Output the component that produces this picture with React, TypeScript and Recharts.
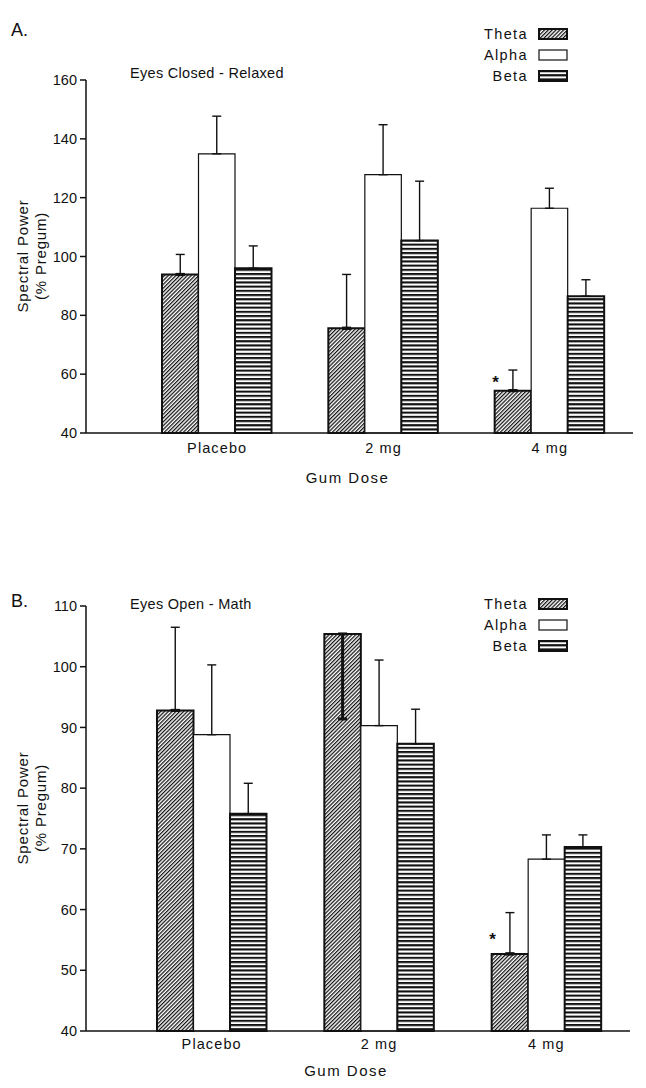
import React from "react";
import { BarChart, Bar, XAxis, YAxis, ErrorBar, LabelList } from "recharts";

const FONT = "'Liberation Sans', Arial, sans-serif";

const doses = ["Placebo", "2 mg", "4 mg"];
const bands = ["Theta", "Alpha", "Beta"];
const significance = ["", "", "*"];

// A: eyes closed - relaxed (mean, upper error)
const thetaA = [93.9, 75.6, 54.4];
const thetaAErr = [6.8, 18.3, 7];
const alphaA = [134.9, 127.8, 116.4];
const alphaAErr = [12.8, 17, 6.8];
const betaA = [96, 105.4, 86.5];
const betaAErr = [7.6, 20.2, 5.6];
const ticksA = [40, 60, 80, 100, 120, 140, 160];

// B: eyes open - math
const thetaB = [92.8, 105.4, 52.7];
const thetaBErrUp = [13.7, 0, 6.8];
const thetaBErrDown = [0, 14, 0];
const alphaB = [88.8, 90.3, 68.3];
const alphaBErr = [11.5, 10.8, 4];
const betaB = [75.8, 87.3, 70.3];
const betaBErr = [5, 5.7, 2];
const ticksB = [40, 50, 60, 70, 80, 90, 100, 110];

const rowsA = doses.map((dose, i) => ({
  dose,
  theta: thetaA[i],
  thetaUp: [0, thetaAErr[i]],
  thetaDown: [0, 0],
  alpha: alphaA[i],
  alphaErr: [0, alphaAErr[i]],
  beta: betaA[i],
  betaErr: [0, betaAErr[i]],
  sig: significance[i],
}));

const rowsB = doses.map((dose, i) => ({
  dose,
  theta: thetaB[i],
  thetaUp: [0, thetaBErrUp[i]],
  thetaDown: [thetaBErrDown[i], 0],
  alpha: alphaB[i],
  alphaErr: [0, alphaBErr[i]],
  beta: betaB[i],
  betaErr: [0, betaBErr[i]],
  sig: significance[i],
}));

const yTickStyle = { fill: "#111", fontSize: 14.5, fontFamily: FONT };
const xTickStyle = { fill: "#111", fontSize: 14.5, fontFamily: FONT, letterSpacing: 1.1 };

function Patterns({ id }: { id: string }) {
  return (
    <defs>
      <pattern id={`theta${id}`} patternUnits="userSpaceOnUse" width={2.7} height={10} patternTransform="rotate(45)">
        <rect width={2.7} height={10} fill="#fff" />
        <rect width={1.25} height={10} fill="#111" />
      </pattern>
      <pattern id={`beta${id}`} patternUnits="userSpaceOnUse" width={10} height={4.2}>
        <rect width={10} height={4.2} fill="#fff" />
        <rect width={10} height={2.1} fill="#111" />
      </pattern>
    </defs>
  );
}

const star = (dy: number) => (props: any) => {
  const { x, y, value } = props;
  if (!value) return null;
  return (
    <text x={x + 1} y={y + dy} fontSize={17} fontWeight="bold" fontFamily={FONT} textAnchor="middle" fill="#111">
      {value}
    </text>
  );
};

const yLabel = (cy: number) => () => (
  <g fill="#111" fontFamily={FONT} fontSize={15} letterSpacing={0.8}>
    <text x={22} y={cy} transform={`rotate(-90 22 ${cy})`} textAnchor="middle" dominantBaseline="central">
      Spectral Power
    </text>
    <text x={40} y={cy} transform={`rotate(-90 40 ${cy})`} textAnchor="middle" dominantBaseline="central">
      (% Pregum)
    </text>
  </g>
);

function Panel(props: any) {
  const { id, rows, ticks, height, margin, padLeft, tickMargin, xHeight, labelY, starDy } = props;
  return (
    <BarChart width={646} height={height} data={rows} margin={margin} barGap={0}>
      <Patterns id={id} />
      <XAxis
        dataKey="dose"
        padding={{ left: padLeft, right: 0 }}
        tickLine={false}
        tickSize={0}
        tickMargin={tickMargin}
        height={xHeight}
        axisLine={{ stroke: "#111", strokeWidth: 1.5 }}
        tick={xTickStyle}
        label={{
          value: "Gum Dose",
          position: "insideBottom",
          offset: 0,
          dx: -12,
          fill: "#111",
          fontSize: 15,
          letterSpacing: 1.5,
          fontFamily: FONT,
        }}
      />
      <YAxis
        type="number"
        domain={[ticks[0], ticks[ticks.length - 1]]}
        ticks={ticks}
        width={86}
        tickSize={6}
        tickMargin={3}
        axisLine={{ stroke: "#111", strokeWidth: 1.5 }}
        tickLine={{ stroke: "#111", strokeWidth: 1.5 }}
        tick={yTickStyle}
        label={yLabel(labelY)}
      />
      <Bar dataKey="theta" barSize={36.5} fill={`url(#theta${id})`} stroke="#111" strokeWidth={2} isAnimationActive={false}>
        <ErrorBar dataKey="thetaUp" direction="y" width={4.5} stroke="#111" strokeWidth={1.4} isAnimationActive={false} />
        <ErrorBar dataKey="thetaDown" direction="y" width={4.5} stroke="#111" strokeWidth={3} isAnimationActive={false} />
        <LabelList dataKey="sig" content={star(starDy)} />
      </Bar>
      <Bar dataKey="alpha" barSize={36.5} fill="#fff" stroke="#111" strokeWidth={1.2} isAnimationActive={false}>
        <ErrorBar dataKey="alphaErr" direction="y" width={4.5} stroke="#111" strokeWidth={1.4} isAnimationActive={false} />
      </Bar>
      <Bar dataKey="beta" barSize={36.5} fill={`url(#beta${id})`} stroke="#111" strokeWidth={2} isAnimationActive={false}>
        <ErrorBar dataKey="betaErr" direction="y" width={4.5} stroke="#111" strokeWidth={1.4} isAnimationActive={false} />
      </Bar>
    </BarChart>
  );
}

function LegendBox({ top, id }: { top: number; id: string }) {
  const fills = [`url(#theta${id})`, "#fff", `url(#beta${id})`];
  const widths = [2, 1.2, 2];
  return (
    <div style={{ position: "absolute", left: 420, top, width: 148 }}>
      {bands.map((name, i) => (
        <div key={name} style={{ display: "flex", justifyContent: "flex-end", alignItems: "center", height: 21 }}>
          <span style={{ fontSize: 14.5, letterSpacing: 1.4, marginRight: 10, color: "#111" }}>{name}</span>
          <svg width={30} height={12} style={{ display: "block" }}>
            <rect x={1} y={1} width={28} height={10} fill={fills[i]} stroke="#111" strokeWidth={widths[i]} />
          </svg>
        </div>
      ))}
    </div>
  );
}

const textAt = (left: number, cy: number, size = 14.5, spacing = 0.3) => ({
  position: "absolute" as const,
  left,
  top: cy - 10,
  lineHeight: "20px",
  fontSize: size,
  letterSpacing: spacing,
  color: "#111",
  whiteSpace: "nowrap" as const,
});

export default function App() {
  return (
    <div style={{ position: "absolute", left: 0, top: 0, width: 646, height: 1088, background: "#fff", fontFamily: FONT, overflow: "hidden" }}>
      <div style={{ position: "absolute", left: 0, top: 0 }}>
        <Panel
          id="A"
          rows={rowsA}
          ticks={ticksA}
          height={500}
          margin={{ top: 80, right: 13, bottom: 17, left: 0 }}
          padLeft={48}
          tickMargin={10}
          xHeight={50}
          labelY={256}
          starDy={-3}
        />
      </div>
      <div style={{ position: "absolute", left: 0, top: 520 }}>
        <Panel
          id="B"
          rows={rowsB}
          ticks={ticksB}
          height={568}
          margin={{ top: 86, right: 16, bottom: 12, left: 0 }}
          padLeft={42}
          tickMargin={8}
          xHeight={45}
          labelY={288}
          starDy={-9}
        />
      </div>
      <div style={textAt(11, 30, 18, 0)}>A.</div>
      <div style={textAt(130, 73)}>Eyes Closed - Relaxed</div>
      <LegendBox top={23} id="A" />
      <div style={textAt(11, 601, 18, 0)}>B.</div>
      <div style={textAt(130, 604)}>Eyes Open - Math</div>
      <LegendBox top={593} id="B" />
    </div>
  );
}
